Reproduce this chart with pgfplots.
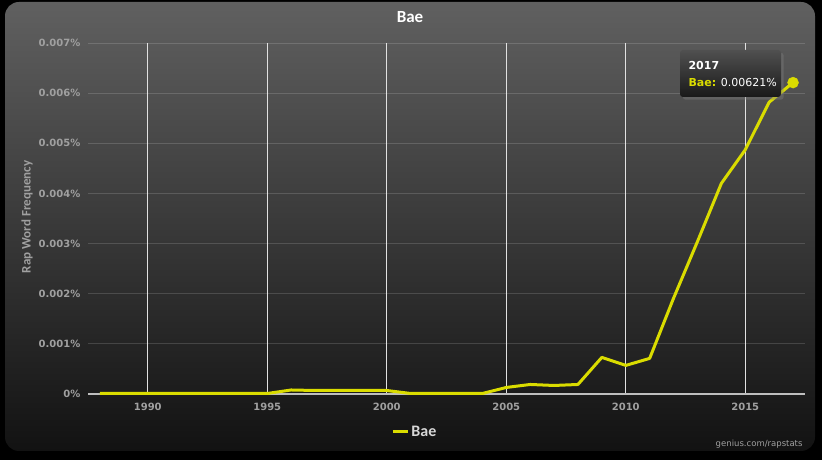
\documentclass[border=0pt]{standalone}
\usepackage{pgfplots}
\pgfplotsset{compat=1.18}
\usepackage{fontspec}
\setmainfont{DejaVu Sans}
\newfontfamily\narrowfont{Carlito}
\usetikzlibrary{shadows}
\definecolor{bae}{RGB}{218,220,0}
\definecolor{ticktxt}{RGB}{160,160,160}
\definecolor{bgtop}{RGB}{96,96,96}
\definecolor{bgbot}{RGB}{18,18,18}
\begin{document}
\begin{tikzpicture}[x=1pt,y=1pt]
\fill[black] (0,0) rectangle (822,460);
\shade[top color=bgtop, bottom color=bgbot, rounded corners=14pt] (5,9) rectangle (815,458);
\begin{axis}[
  at={(88pt,66pt)}, anchor=south west,
  scale only axis, width=717pt, height=351pt,
  xmin=1987.5, xmax=2017.5, ymin=0, ymax=0.007,
  scaled y ticks=false, scaled x ticks=false,
  axis x line=bottom, axis y line=left,
  x axis line style={draw={rgb,255:red,190;green,190;blue,190}, line width=2pt, -},
  y axis line style={draw=none},
  tick style={draw=none},
  xtick={1990,1995,2000,2005,2010,2015},
  xticklabels={1990,1995,2000,2005,2010,2015},
  ytick={0,0.001,0.002,0.003,0.004,0.005,0.006,0.007},
  yticklabels={0\%,0.001\%,0.002\%,0.003\%,0.004\%,0.005\%,0.006\%,0.007\%},
  tick label style={font=\bfseries\fontsize{10}{12}\selectfont, text=ticktxt},
  xticklabel style={yshift=-3pt},
  yticklabel style={xshift=-2pt},
  xmajorgrids, ymajorgrids,
  every axis x grid/.style={draw={rgb,255:red,225;green,225;blue,225}, line width=1pt},
  every axis y grid/.style={draw=white, draw opacity=0.15, line width=1pt},
  legend style={at={(0.456,-0.108)}, anchor=center, draw=none, fill=none,
     text={rgb,255:red,215;green,215;blue,215}, font=\narrowfont\bfseries\fontsize{16}{18}\selectfont},
  legend image code/.code={\draw[#1, line width=3pt] (0pt,0pt) -- (15pt,0pt);},
  clip=false,
]
\addplot[bae, line width=3pt, line join=round] coordinates {
(1988,0.00001) (1989,0.00001) (1990,0.00001) (1991,0.00001) (1992,0.00001)
(1993,0.00001) (1994,0.00001) (1995,0.00001) (1996,0.00008) (1997,0.00007)
(1998,0.00007) (1999,0.00007) (2000,0.00007) (2001,0.00001) (2002,0.00001)
(2003,0.00001) (2004,0.00001) (2005,0.00013) (2006,0.00019) (2007,0.00017)
(2008,0.00019) (2009,0.00073) (2010,0.00057) (2011,0.00071) (2012,0.00191)
(2013,0.00304) (2014,0.00420) (2015,0.00487) (2016,0.00582) (2017,0.00621)
};
\addlegendentry{Bae}
\addplot[forget plot, only marks, mark=*, mark size=5.5pt, mark options={fill=bae, draw=bae}] coordinates {(2017,0.00621)};
\end{axis}
% title
\node[text=white, font=\narrowfont\bfseries\fontsize{17}{19}\selectfont] at (410,443) {Bae};
% y label
\node[rotate=90, text=ticktxt, font=\narrowfont\bfseries\fontsize{13}{15}\selectfont] at (27,243) {Rap Word Frequency};
% footer
\node[anchor=east, text=ticktxt, font=\fontsize{8.5}{10}\selectfont] at (806,16) {genius.com/rapstats};
% tooltip
\shade[top color={rgb,255:red,80;green,80;blue,80}, bottom color={rgb,255:red,25;green,25;blue,25}, rounded corners=3pt, drop shadow={opacity=0.4}] (680,410) rectangle (781,363);
\node[anchor=west, text=white, font=\bfseries\fontsize{11}{13}\selectfont] at (685,394) {2017};
\node[anchor=west, text=white, font=\fontsize{11}{13}\selectfont] at (685,377) {\textcolor{bae}{\bfseries Bae:} 0.00621\%};
\end{tikzpicture}
\end{document}
